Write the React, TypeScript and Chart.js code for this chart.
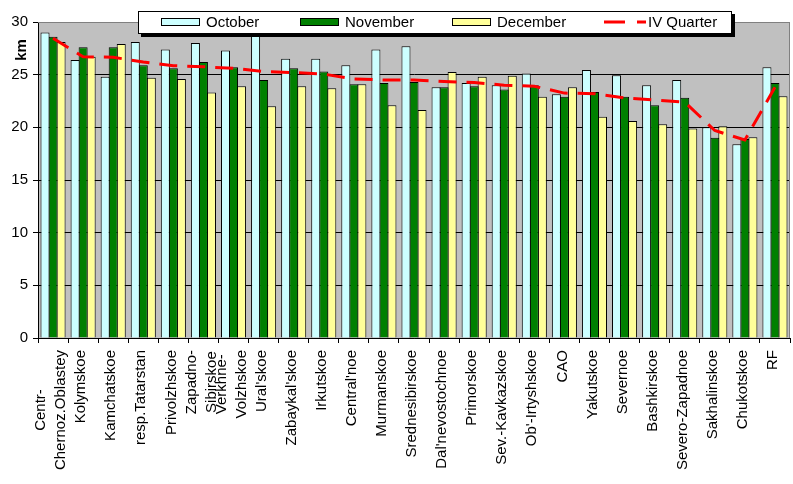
import React, { useEffect, useRef } from 'react';
import { Chart, registerables } from 'chart.js';

Chart.register(...registerables);

const categories: string[][] = [
  ['Centr-', 'Chernoz.Oblastey'],
  ['Kolymskoe'],
  ['Kamchatskoe'],
  ['resp.Tatarstan'],
  ['Privolzhskoe'],
  ['Zapadno-', 'Sibirskoe'],
  ['Verkhne-', 'Volzhskoe'],
  ["Ural'skoe"],
  ["Zabaykal'skoe"],
  ['Irkutskoe'],
  ["Central'noe"],
  ['Murmanskoe'],
  ['Srednesibirskoe'],
  ["Dal'nevostochnoe"],
  ['Primorskoe'],
  ['Sev.-Kavkazskoe'],
  ["Ob'-Irtyshskoe"],
  ['CAO'],
  ['Yakutskoe'],
  ['Severnoe'],
  ['Bashkirskoe'],
  ['Severo-Zapadnoe'],
  ['Sakhalinskoe'],
  ['Chukotskoe'],
  ['RF'],
];

const october = [29.0, 26.4, 24.8, 28.1, 27.4, 28.0, 27.3, 29.6, 26.5, 26.5, 25.9, 27.4, 27.7, 23.8, 24.2, 24.0, 25.1, 23.15, 25.45, 24.95, 24.0, 24.5, 20.0, 18.4, 25.7];
const november = [28.6, 27.6, 27.6, 25.9, 25.6, 26.2, 25.7, 24.5, 25.6, 25.3, 24.1, 24.2, 24.3, 23.8, 23.9, 23.6, 24.0, 22.9, 23.35, 22.9, 22.1, 22.8, 19.0, 18.9, 24.2];
const december = [28.1, 26.7, 27.9, 24.7, 24.6, 23.3, 23.9, 22.0, 23.9, 23.7, 24.1, 22.1, 21.65, 25.25, 24.8, 24.9, 22.9, 23.8, 21.0, 20.6, 20.3, 19.9, 20.1, 19.05, 22.95];
const quarter = [28.45, 26.7, 26.65, 26.2, 25.85, 25.75, 25.6, 25.3, 25.2, 25.05, 24.6, 24.5, 24.5, 24.35, 24.25, 24.0, 23.9, 23.25, 23.2, 22.8, 22.6, 22.4, 19.7, 18.8, 23.8];

const seriesNames = ['October', 'November', 'December', 'IV Quarter'];
const yMin = 0;
const yMax = 30;
const yStep = 5;

const FONT = '"Liberation Sans", Arial, sans-serif';

const decorPlugin = {
  id: 'decor',
  beforeDraw(chart: any) {
    const { ctx, chartArea } = chart;
    ctx.save();
    ctx.fillStyle = '#ffffff';
    ctx.fillRect(0, 0, chart.width, chart.height);
    ctx.fillStyle = '#C0C0C0';
    ctx.fillRect(chartArea.left, chartArea.top, chartArea.right - chartArea.left, chartArea.bottom - chartArea.top);
    ctx.restore();
  },
  afterDraw(chart: any) {
    const { ctx, chartArea } = chart;
    const xScale = chart.scales.x;
    ctx.save();
    // plot border (top/right grey)
    ctx.strokeStyle = '#808080';
    ctx.lineWidth = 1;
    ctx.beginPath();
    ctx.moveTo(chartArea.left, chartArea.top + 0.5);
    ctx.lineTo(chartArea.right - 0.5, chartArea.top + 0.5);
    ctx.lineTo(chartArea.right - 0.5, chartArea.bottom);
    ctx.stroke();

    // x labels
    ctx.fillStyle = '#000';
    ctx.font = `15px ${FONT}`;
    categories.forEach((lines, i) => {
      const cx = xScale.getPixelForValue(i) - 2;
      const widths = lines.map((l) => ctx.measureText(l).width);
      const maxW = Math.max(...widths);
      lines.forEach((line, j) => {
        const lx = cx + (j - (lines.length - 1) / 2) * 20;
        const top = chartArea.bottom + 12 + (maxW - widths[j]) / 2;
        ctx.save();
        ctx.translate(lx, top);
        ctx.rotate(-Math.PI / 2);
        ctx.textAlign = 'right';
        ctx.textBaseline = 'middle';
        ctx.fillText(line, 0, 0);
        ctx.restore();
      });
    });

    // y title
    ctx.save();
    ctx.translate(22, 50);
    ctx.rotate(-Math.PI / 2);
    ctx.font = `bold 15px ${FONT}`;
    ctx.textAlign = 'center';
    ctx.textBaseline = 'middle';
    ctx.fillText('km', 0, 0);
    ctx.restore();

    // legend
    const lx0 = 138, ly0 = 11, lx1 = 732, ly1 = 34;
    ctx.fillStyle = '#000';
    ctx.fillRect(lx0 + 3, ly0 + 3, lx1 - lx0, ly1 - ly0);
    ctx.fillStyle = '#fff';
    ctx.fillRect(lx0, ly0, lx1 - lx0, ly1 - ly0);
    ctx.strokeStyle = '#000';
    ctx.lineWidth = 1;
    ctx.strokeRect(lx0 + 0.5, ly0 + 0.5, lx1 - lx0 - 1, ly1 - ly0 - 1);

    const ds = chart.data.datasets;
    const swatchX = [161, 300, 452];
    ctx.font = `15px ${FONT}`;
    ctx.textAlign = 'left';
    ctx.textBaseline = 'middle';
    for (let k = 0; k < 3; k++) {
      const sx = swatchX[k];
      ctx.fillStyle = ds[k].backgroundColor;
      ctx.fillRect(sx, 18, 39, 8);
      ctx.strokeStyle = '#000';
      ctx.strokeRect(sx + 0.5, 18.5, 38, 7);
      ctx.fillStyle = '#000';
      ctx.fillText(ds[k].label, sx + 45, 22.5);
    }
    ctx.strokeStyle = ds[3].borderColor;
    ctx.lineWidth = 3;
    ctx.beginPath();
    ctx.moveTo(604, 22);
    ctx.lineTo(625, 22);
    ctx.moveTo(637, 22);
    ctx.lineTo(646, 22);
    ctx.stroke();
    ctx.fillStyle = '#000';
    ctx.fillText(ds[3].label, 648, 22.5);
    ctx.restore();
  },
};

export default function App() {
  const ref = useRef<HTMLCanvasElement | null>(null);

  useEffect(() => {
    document.body.style.margin = '0';
    const canvas = ref.current;
    if (!canvas) return;
    const barCommon = {
      type: 'bar',
      borderColor: '#000000',
      borderWidth: 1,
      categoryPercentage: 0.8,
      barPercentage: 1.125,
      order: 1,
    };
    const chart = new Chart(canvas, {
      type: 'bar',
      data: {
        labels: categories.map((c) => c.join(' ')),
        datasets: [
          { ...barCommon, label: seriesNames[0], data: october, backgroundColor: '#CCFFFF' },
          { ...barCommon, label: seriesNames[1], data: november, backgroundColor: '#008000' },
          { ...barCommon, label: seriesNames[2], data: december, backgroundColor: '#FFFF99' },
          {
            type: 'line',
            label: seriesNames[3],
            data: quarter,
            borderColor: '#FF0000',
            backgroundColor: '#FF0000',
            borderWidth: 3,
            borderDash: [18, 10],
            pointRadius: 0,
            fill: false,
            tension: 0,
            order: 0,
          },
        ] as any,
      },
      options: {
        responsive: false,
        animation: false,
        events: [],
        layout: { padding: { top: 22, right: 3, left: 0, bottom: 0 } },
        plugins: {
          legend: { display: false },
          tooltip: { enabled: false },
          title: { display: false },
        },
        scales: {
          x: {
            offset: true,
            grid: {
              display: true,
              offset: true,
              drawOnChartArea: false,
              drawTicks: true,
              tickLength: 5,
              color: '#000000',
            },
            border: { display: true, color: '#000000', width: 1 },
            ticks: { display: false },
            afterFit: (s: any) => {
              s.height = 146;
            },
          },
          y: {
            min: yMin,
            max: yMax,
            grid: {
              color: (c: any) => (c.tick && c.tick.value === yMax ? '#808080' : '#000000'),
              tickColor: '#000000',
              tickLength: 5,
              drawTicks: true,
            },
            border: { display: true, color: '#000000', width: 1 },
            ticks: {
              stepSize: yStep,
              padding: 5,
              color: '#000000',
              font: { family: FONT, size: 15 },
            },
            afterFit: (s: any) => {
              s.width = 38;
            },
          },
        },
      },
      plugins: [decorPlugin],
    });
    return () => chart.destroy();
  }, []);

  return (
    <div style={{ width: 793, height: 484, position: 'relative' }}>
      <canvas ref={ref} width={793} height={484} style={{ display: 'block', width: 793, height: 484 }} />
    </div>
  );
}
